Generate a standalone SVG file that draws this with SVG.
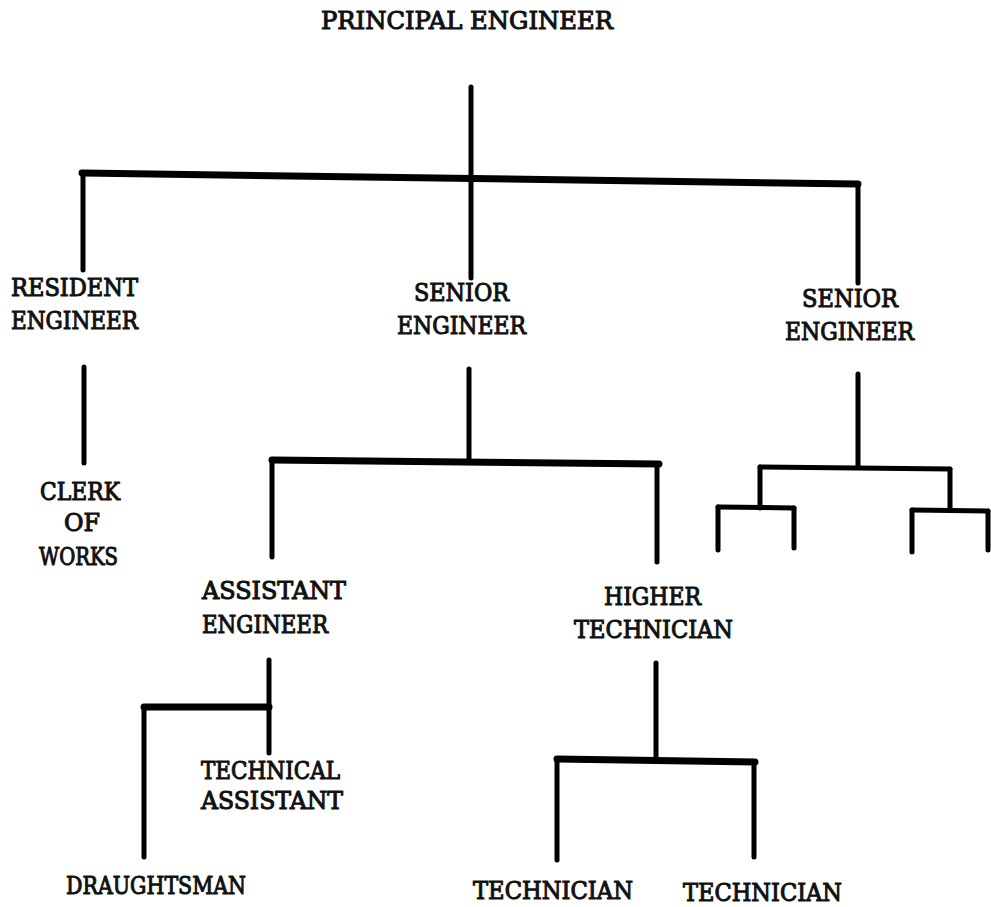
<svg xmlns="http://www.w3.org/2000/svg" width="991" height="907" viewBox="0 0 991 907">
  <style>
    .lbl { font-family: "DejaVu Serif", "Liberation Serif", serif; font-weight: normal; font-size: 25px; fill: #111; stroke: #111; stroke-width: 1.1; }
    .v { stroke: #000; stroke-width: 5; fill: none; stroke-linecap: round; }
    .h { stroke: #000; stroke-width: 7; fill: none; stroke-linecap: round; stroke-linejoin: round; }
    .hs { stroke: #000; stroke-width: 5; fill: none; stroke-linecap: round; stroke-linejoin: round; }
  </style>
  <rect width="991" height="907" fill="#fff"/>

  <!-- organisation chart lines -->
  <g id="connectors">
    <!-- principal engineer to the three heads -->
    <line class="v" x1="471" y1="87" x2="471" y2="278"/>
    <line class="h" x1="82" y1="173" x2="858" y2="184"/>
    <line class="v" x1="83" y1="173" x2="83" y2="270"/>
    <line class="v" x1="858" y1="184" x2="858" y2="283"/>

    <!-- resident engineer to clerk of works -->
    <line class="v" x1="84" y1="367" x2="84" y2="463"/>

    <!-- senior engineer (centre) -->
    <line class="v" x1="469" y1="369" x2="469" y2="461"/>
    <line class="h" x1="272" y1="460" x2="659" y2="464"/>
    <line class="v" x1="272" y1="460" x2="272" y2="557"/>
    <line class="v" x1="657" y1="464" x2="657" y2="562"/>

    <!-- senior engineer (right) -->
    <line class="v" x1="858" y1="374" x2="858" y2="467"/>
    <line class="hs" x1="760" y1="467" x2="950" y2="469"/>
    <line class="v" x1="760" y1="467" x2="760" y2="508"/>
    <line class="hs" x1="718" y1="507" x2="794" y2="508"/>
    <line class="v" x1="718" y1="507" x2="718" y2="550"/>
    <line class="v" x1="794" y1="508" x2="794" y2="548"/>
    <line class="v" x1="950" y1="469" x2="950" y2="510"/>
    <line class="hs" x1="912" y1="510" x2="988" y2="511"/>
    <line class="v" x1="912" y1="510" x2="912" y2="552"/>
    <line class="v" x1="988" y1="511" x2="988" y2="550"/>

    <!-- assistant engineer -->
    <line class="v" x1="269" y1="660" x2="269" y2="753"/>
    <line class="h" x1="144" y1="707" x2="269" y2="707"/>
    <line class="v" x1="144" y1="707" x2="144" y2="857"/>

    <!-- higher technician -->
    <line class="v" x1="656" y1="663" x2="656" y2="758"/>
    <line class="h" x1="557" y1="759" x2="755" y2="762"/>
    <line class="v" x1="557" y1="759" x2="557" y2="860"/>
    <line class="v" x1="754" y1="762" x2="754" y2="857"/>
  </g>

  <g id="principal-engineer">
    <text class="lbl" x="321" y="29" textLength="292" lengthAdjust="spacingAndGlyphs">PRINCIPAL ENGINEER</text>
  </g>
  <g id="resident-engineer">
    <text class="lbl" x="11" y="296" textLength="127" lengthAdjust="spacingAndGlyphs">RESIDENT</text>
    <text class="lbl" x="11" y="329" textLength="127" lengthAdjust="spacingAndGlyphs">ENGINEER</text>
  </g>
  <g id="senior-engineer-1">
    <text class="lbl" x="414" y="301" textLength="95" lengthAdjust="spacingAndGlyphs">SENIOR</text>
    <text class="lbl" x="397" y="334" textLength="129" lengthAdjust="spacingAndGlyphs">ENGINEER</text>
  </g>
  <g id="senior-engineer-2">
    <text class="lbl" x="802" y="307" textLength="96" lengthAdjust="spacingAndGlyphs">SENIOR</text>
    <text class="lbl" x="785" y="340" textLength="129" lengthAdjust="spacingAndGlyphs">ENGINEER</text>
  </g>
  <g id="clerk-of-works">
    <text class="lbl" x="40" y="500" textLength="80" lengthAdjust="spacingAndGlyphs">CLERK</text>
    <text class="lbl" x="64" y="531" textLength="36" lengthAdjust="spacingAndGlyphs">OF</text>
    <text class="lbl" x="39" y="565" textLength="79" lengthAdjust="spacingAndGlyphs">WORKS</text>
  </g>
  <g id="assistant-engineer">
    <text class="lbl" x="202" y="599" textLength="144" lengthAdjust="spacingAndGlyphs">ASSISTANT</text>
    <text class="lbl" x="202" y="633" textLength="126" lengthAdjust="spacingAndGlyphs">ENGINEER</text>
  </g>
  <g id="higher-technician">
    <text class="lbl" x="604" y="605" textLength="97" lengthAdjust="spacingAndGlyphs">HIGHER</text>
    <text class="lbl" x="574" y="638" textLength="159" lengthAdjust="spacingAndGlyphs">TECHNICIAN</text>
  </g>
  <g id="technical-assistant">
    <text class="lbl" x="201" y="779" textLength="139" lengthAdjust="spacingAndGlyphs">TECHNICAL</text>
    <text class="lbl" x="201" y="809" textLength="142" lengthAdjust="spacingAndGlyphs">ASSISTANT</text>
  </g>
  <g id="draughtsman">
    <text class="lbl" x="66" y="894" textLength="180" lengthAdjust="spacingAndGlyphs">DRAUGHTSMAN</text>
  </g>
  <g id="technician-1">
    <text class="lbl" x="473" y="899" textLength="160" lengthAdjust="spacingAndGlyphs">TECHNICIAN</text>
  </g>
  <g id="technician-2">
    <text class="lbl" x="683" y="901" textLength="159" lengthAdjust="spacingAndGlyphs">TECHNICIAN</text>
  </g>
</svg>
